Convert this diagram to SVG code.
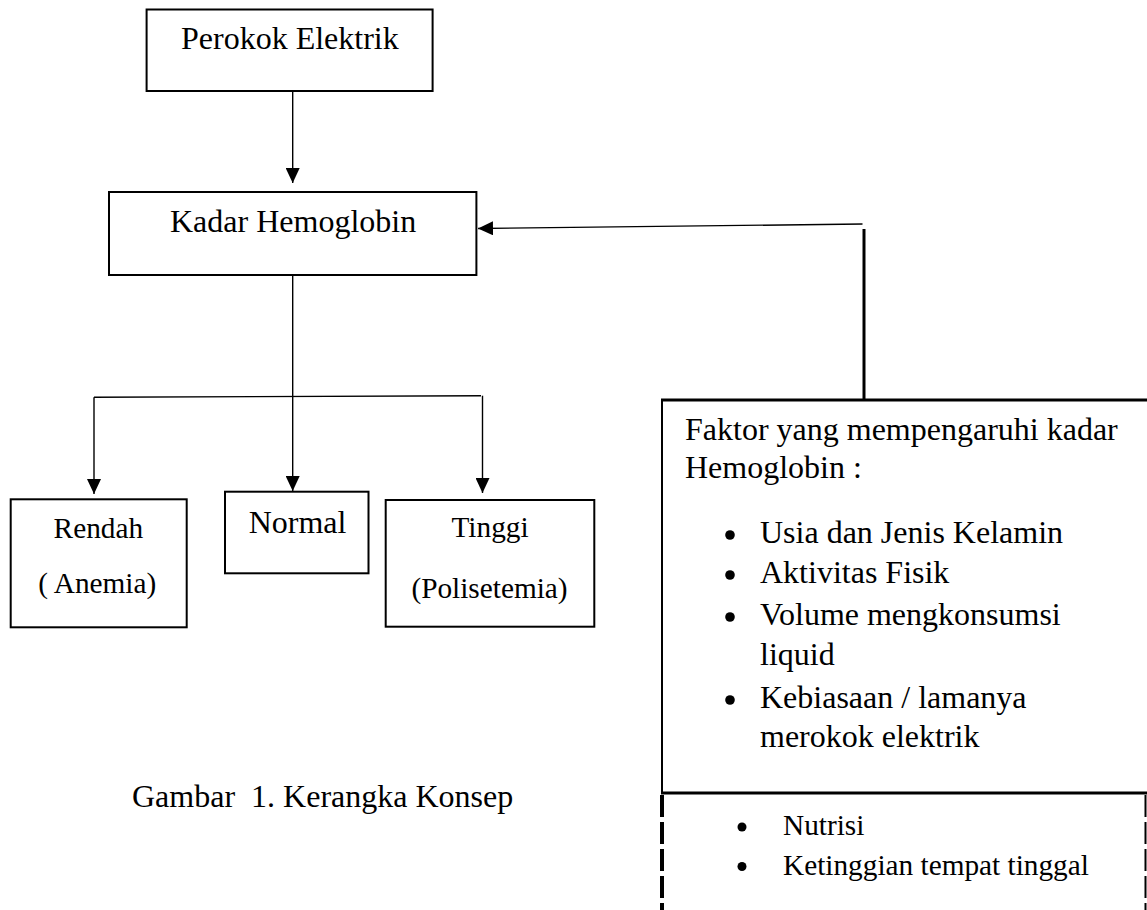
<svg xmlns="http://www.w3.org/2000/svg" width="1147" height="910" viewBox="0 0 1147 910">
<style>
text{font-family:"Liberation Serif","Times New Roman",serif;fill:#000}
.big{font-size:32px}
.sm{font-size:29.3px}
.box{fill:#fff;stroke:#000;stroke-width:2}
.con{fill:none;stroke:#000;stroke-width:1.4}
</style>
<defs>
<marker id="arr" viewBox="0 0 15 14" refX="15" refY="7" markerWidth="15" markerHeight="14" markerUnits="userSpaceOnUse" orient="auto">
<path d="M0,0 L15,7 L0,14 z" fill="#000"/>
</marker>
</defs>
<rect width="1147" height="910" fill="#fff"/>

<g id="connectors">
<line class="con" x1="292.7" y1="91" x2="292.7" y2="183" marker-end="url(#arr)"/>
<line class="con" x1="292.7" y1="275" x2="292.7" y2="491" marker-end="url(#arr)"/>
<line class="con" x1="94" y1="397.3" x2="481" y2="395.7"/>
<line class="con" x1="94" y1="397.3" x2="94" y2="494" marker-end="url(#arr)"/>
<line class="con" x1="482.5" y1="395.7" x2="482.5" y2="493" marker-end="url(#arr)"/>
<line fill="none" stroke="#000" stroke-width="3" x1="864" y1="229" x2="864" y2="400"/>
<line class="con" x1="862.5" y1="224" x2="478" y2="228.5" marker-end="url(#arr)"/>
</g>

<g id="perokok">
<rect class="box" x="146.6" y="9.5" width="286" height="81.5"/>
<text class="big" x="181" y="49">Perokok Elektrik</text>
</g>

<g id="kadar">
<rect class="box" x="109" y="192" width="367.4" height="83" stroke-width="2.5"/>
<text class="big" x="170" y="232">Kadar Hemoglobin</text>
</g>

<g id="rendah">
<rect class="box" x="10.7" y="499.3" width="176" height="128"/>
<text class="sm" x="53.6" y="538.3">Rendah</text>
<text class="sm" x="38.3" y="593.3">( Anemia)</text>
</g>

<g id="normal">
<rect class="box" x="225" y="491.7" width="143.5" height="81.6"/>
<text class="big" x="248.7" y="533">Normal</text>
</g>

<g id="tinggi">
<rect class="box" x="385.7" y="500" width="208.6" height="126.7"/>
<text class="sm" x="451.5" y="537">Tinggi</text>
<text class="sm" x="411.4" y="598">(Polisetemia)</text>
</g>

<g id="faktor">
<line stroke="#000" stroke-width="3" x1="661" y1="400" x2="1147" y2="400"/>
<line stroke="#000" stroke-width="2" x1="662" y1="399" x2="662" y2="793"/>
<text class="big" x="685" y="440">Faktor yang mempengaruhi kadar</text>
<text class="big" x="685" y="478">Hemoglobin :</text>
<circle cx="730" cy="535" r="4.8"/>
<text class="big" x="760" y="543.3">Usia dan Jenis Kelamin</text>
<circle cx="730" cy="575" r="4.8"/>
<text class="big" x="760" y="583">Aktivitas Fisik</text>
<circle cx="730" cy="617" r="4.8"/>
<text class="big" x="760" y="625">Volume mengkonsumsi</text>
<text class="big" x="760" y="665">liquid</text>
<circle cx="730" cy="700" r="4.8"/>
<text class="big" x="760" y="708">Kebiasaan / lamanya</text>
<text class="big" x="760" y="747">merokok elektrik</text>
</g>

<g id="faktor-lain">
<line stroke="#000" stroke-width="3" x1="661" y1="793" x2="1147" y2="793"/>
<line stroke="#000" stroke-width="4" stroke-dasharray="22,5" x1="662" y1="795" x2="662" y2="910"/>
<line stroke="#000" stroke-width="2" stroke-dasharray="22,5" x1="1145.5" y1="795" x2="1145.5" y2="910"/>
<circle cx="742" cy="827" r="4.5"/>
<text class="sm" x="783" y="835">Nutrisi</text>
<circle cx="742" cy="866.5" r="4.5"/>
<text class="sm" x="783" y="875">Ketinggian tempat tinggal</text>
</g>

<g id="caption">
<text class="big" x="132" y="807" xml:space="preserve">Gambar  1. Kerangka Konsep</text>
</g>
</svg>
